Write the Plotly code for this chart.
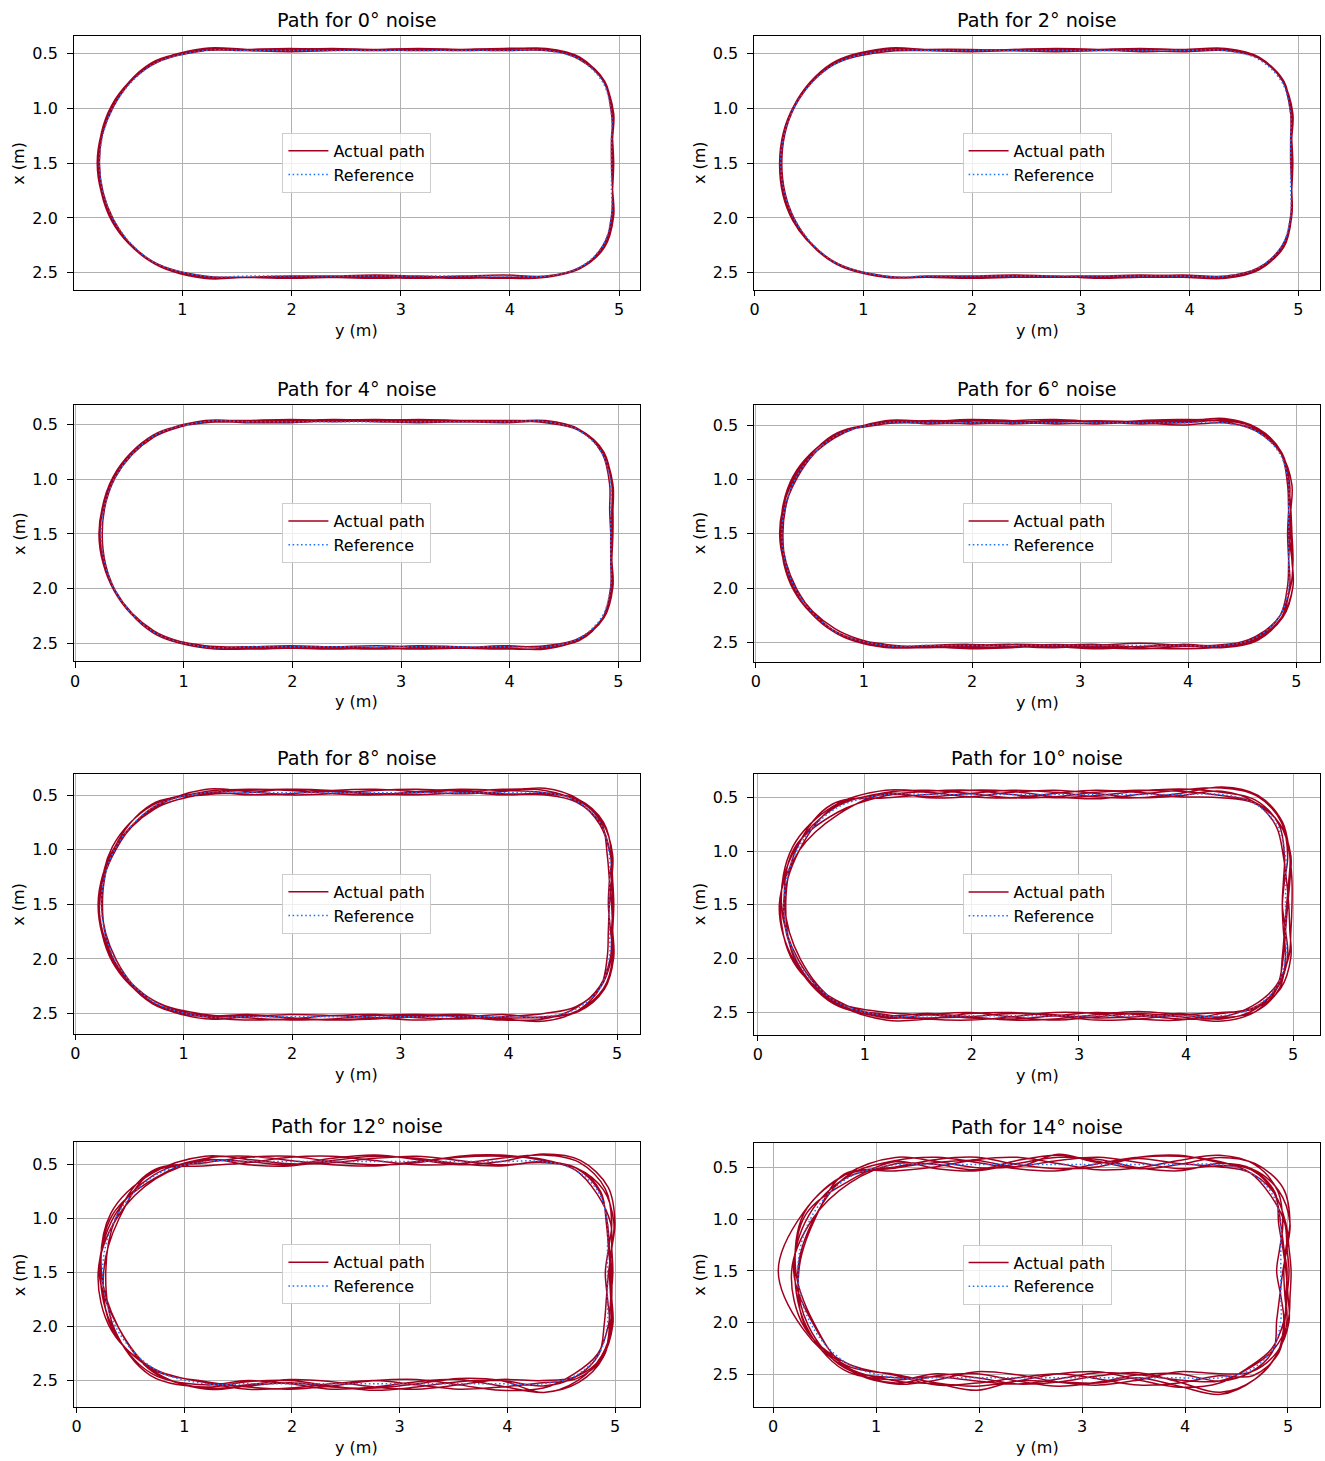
import numpy as np
import plotly.graph_objects as go

W, H = 1325, 1461

# Reference path nodes (horizontal axis = y (m), vertical axis = x (m))
REF_Y = [1.20, 1.59, 1.98, 2.37, 2.77, 3.16, 3.55, 3.94, 4.33,
         4.63, 4.85,
         4.93, 4.93, 4.93, 4.93, 4.93,
         4.85, 4.63,
         4.33, 3.94, 3.55, 3.16, 2.77, 2.37, 1.98, 1.59, 1.20,
         0.72, 0.369, 0.24, 0.369, 0.72]
REF_X = [0.475, 0.475, 0.475, 0.475, 0.475, 0.475, 0.475, 0.475, 0.475,
         0.552, 0.763,
         1.05, 1.28, 1.50, 1.74, 1.98,
         2.255, 2.456,
         2.53, 2.53, 2.53, 2.53, 2.53, 2.53, 2.53, 2.53, 2.53,
         2.392, 2.015, 1.50, 0.985, 0.608]

NOISE_DEG = [0, 2, 4, 6, 8, 10, 12, 14]

# Per-lap outward deviation of the actual path at each reference node (cm)
# order: top straight (9) | top-right corner (2) | right side (5) | bottom-right corner (2) | bottom (9) | left arc (5)
LAPS_0 = [
    [0, 1, 2, 1, 0, 1, 1, 2, 1, 1, 1, 1, 1, 0, 1, 2, 2, 1, 0, 1, 1, 2, 1, 0, 0, 1, 1, 1, 2, 1, 0, 1],
    [1, 0, -1, 0, 1, 2, 1, 0, 0, 1, 2, 1, 0, 0, 1, 1, 0, 1, 1, 2, 1, 0, -1, 0, 1, 1, 0, 0, 1, 1, 2, 1],
    [2, 1, 0, 1, 1, 0, 1, 2, 1, 0, 1, 0, 1, 2, 1, 0, 1, 0, 0, -1, 0, 1, 2, 1, 0, 1, 2, 1, 0, 0, 1, 2],
    [0, 0, 1, 2, 1, 1, 0, 1, 2, 2, 1, 2, 1, 1, 1, 2, 1, 1, 1, 1, 2, 1, 0, 1, 2, 1, 0, 0, 1, 2, 1, 0],
]
LAPS_2 = [
    [1, 0, -1, 0, 1, 1, 0, -1, 0, 1, 1, 2, 1, 1, 1, 0, 1, 1, 1, 0, -1, 0, 1, 1, 0, 0, 1, 1, 0, -1, 0, 1],
    [0, 1, 1, 0, -1, 0, 1, 1, 0, 1, 2, 0, 0, 0, 1, 1, 2, 1, 0, 1, 1, 0, 0, -1, 0, 1, 0, 0, 1, 1, 0, 0],
    [-1, 0, 0, 1, 2, 1, -1, 0, 1, 1, 1, 1, 1, 1, 1, 1, 0, 0, 0, -1, 0, 1, 1, 0, 1, 1, 0, 1, 1, 0, 1, 2],
    [2, 1, 0, 1, 0, 1, 2, 1, 2, 2, 1, 0, 1, 2, 1, 0, 1, 2, 2, 1, 1, 2, 0, 1, 2, 1, 1, 0, 2, 1, 1, 0],
]
LAPS_4 = [
    [0, 1, 2, 1, 0, -1, 0, 1, 0, 1, 1, 2, 2, 1, 0, 0, 1, 1, 2, 1, 0, -1, 1, 2, 1, 0, -1, 0, 1, 2, 1, 0],
    [1, 0, -1, 1, 2, 1, 0, -1, 0, 1, 2, 1, 1, 0, 0, 0, 1, 2, 0, -1, 1, 2, 1, 0, -1, 0, 1, 1, 0, -1, 0, 1],
    [-1, 0, 1, 0, 1, 2, 1, 0, 1, 1, 0, -1, -1, 0, 1, 2, 2, 1, 1, 2, 1, 0, -1, 0, 1, 2, 1, 0, 1, 1, 2, 1],
    [0, -1, 0, 2, 1, 0, 1, 1, -1, 0, 1, 1, 2, 2, 1, 1, 1, 0, -1, 0, 1, 1, 2, 1, 0, 1, 0, -1, 0, 1, 0, -1],
]
LAPS_6 = [
    [0, 1, 3, 2, 0, -1, 1, 2, 3, 2, 1, -1, 0, 2, 3, 4, 2, 1, -1, 1, 3, 2, 0, -1, 1, 2, 1, 0, 2, 1, -1, 0],
    [1, -1, 0, 2, 3, 1, -1, 0, 2, 3, 2, 1, 0, -1, 0, 1, 2, 3, 2, 0, -2, 0, 2, 1, -1, 0, 2, 1, -1, 0, 2, 1],
    [-1, 0, 2, 1, -1, 0, 2, 3, 1, 0, 1, 3, 2, 1, 0, -1, 0, 0, 1, 3, 2, -1, 0, 2, 3, 1, 0, -2, 0, 2, 1, -1],
    [2, 1, -1, 0, 2, 1, 0, -2, 0, 1, 2, 0, 2, 3, 4, 2, 0, -1, 0, -1, 1, 3, 1, -1, 0, 1, -1, 1, 1, -1, 0, 2],
    [0, 2, 1, -1, 1, 2, 1, 1, 4, 3, 2, 1, 0, 0, 3, 4, 3, 2, 1, 0, 1, 1, -1, 1, 2, 0, 1, 0, -1, 1, 3, 1],
]
LAPS_8 = [
    [1, 3, 2, -1, -2, 1, 3, 2, 0, 1, 2, 3, 2, 0, -1, -2, 0, 2, 4, 2, -1, 0, 2, 3, 1, -1, 0, 2, 1, -1, 1, 3],
    [-2, 0, 3, 2, -1, -2, 0, 3, 2, 0, -1, 1, 3, 4, 3, 2, 0, -2, -3, 0, 2, 1, -2, -1, 2, 3, 0, -1, 2, 3, 1, -1],
    [3, 1, -2, -1, 2, 3, 1, -2, -1, 2, 3, 2, 0, -1, 1, 3, 3, 2, 1, -2, 1, 3, 1, -1, -2, 0, 2, 1, -1, 0, 3, 2],
    [0, -2, -1, 2, 3, 1, -1, 1, 4, 2, 1, -2, 0, 2, 3, 4, 4, 3, 0, 1, -2, -1, 1, 3, 1, -2, -1, 1, 3, 2, 0, -2],
    [-1, 2, 3, 1, -1, 0, 2, -1, -2, -1, 0, 1, 2, 3, 2, 1, -1, -1, 2, 3, 0, -2, -1, 2, 3, 1, -2, -1, 1, 2, -1, 0],
]
LAPS_10 = [
    [2, 4, 1, -3, -2, 2, 4, 3, -1, 1, 3, 5, 4, 2, 0, -2, 0, 2, 3, -1, -4, -1, 3, 4, 1, -2, 0, 3, 2, -2, 1, 5],
    [-3, 0, 4, 3, -2, -4, 0, 4, 6, 7, 5, 2, -1, -3, -2, 0, 3, 4, 2, 3, -1, -3, 0, 3, 2, -1, -3, 0, 3, 4, -2, -6],
    [1, -3, -2, 2, 4, 1, -3, -1, 3, 1, -1, -2, 1, 3, 4, 5, 4, 1, -3, -1, 3, 4, 0, -3, -2, 3, 4, 1, -1, 2, 5, 3],
    [4, 2, -2, -3, 1, 4, 2, -2, -3, 0, 3, 4, 3, 1, -1, -3, 1, 4, 5, 1, -2, 1, 4, 1, -3, -1, 2, 0, -3, -1, 3, -4],
    [-1, 3, 4, 0, -3, -1, 3, 5, 2, 3, 2, -1, -2, -3, 0, 2, 1, 0, -2, 4, 3, -2, -3, 1, 4, 3, -1, 2, 1, 0, -2, 2],
    [0, -2, 1, 4, 2, -2, -3, 1, 7, 8, 6, 4, 6, 6, 5, 3, -1, -2, 1, -2, 1, 2, -1, -2, 1, 2, 1, -1, 4, 3, 2, 1],
]
LAPS_12 = [
    [3, 5, 1, -3, -4, 0, 4, 5, 2, 0, -2, 3, 4, 5, 3, 1, -1, -2, 4, 6, 1, -4, -3, 2, 5, 3, -2, 1, 4, -1, -3, 4],
    [-4, -1, 4, 5, 1, -3, -2, 3, 6, 8, 7, 4, 1, -2, 0, 2, 5, 7, 8, 2, -4, -2, 3, 5, 0, -3, 1, 5, 3, 2, 4, -2],
    [2, -3, -4, 1, 5, 3, -2, -4, 0, 2, 2, -1, 1, 3, 4, 5, 4, 1, -3, -4, 1, 5, 3, -2, -4, 1, 4, 3, -2, 1, 6, 3],
    [5, 2, -2, -1, 3, 5, 1, -3, -1, 2, 5, 6, 4, 1, -1, -3, 0, 1, 2, -3, -2, 3, 6, 2, -3, -2, 3, 7, 2, -3, 0, 5],
    [-1, 4, 5, 0, -3, -1, 5, 6, 1, 2, 1, 0, 2, 4, 4, 3, 5, 3, -1, 3, 5, 1, -3, 0, 4, 5, -1, 0, 5, 4, -1, -3],
    [1, 0, -3, 3, 6, 2, -3, 0, 7, 10, 10, 7, 4, 2, 3, 4, 3, 5, 8, -3, -5, 0, 4, 3, -1, 2, 5, 2, -2, 3, 2, 1],
]
LAPS_14 = [
    [4, 7, 2, -4, -6, 1, 7, 8, 3, 0, -2, 4, 6, 8, 6, 3, -1, -3, 5, 9, 2, -6, -4, 3, 8, 5, -3, 2, 6, -1, -4, 5],
    [-6, -2, 5, 7, 1, -5, -3, 4, 9, 9, 6, 2, -1, -4, 0, 3, 6, 10, 14, 4, -5, -2, 4, 6, 0, -4, 2, 7, 5, 3, 6, -3],
    [3, -4, -6, 1, 7, 5, -3, -6, 1, 4, 3, -2, 2, 5, 7, 8, 5, 2, -4, -6, 2, 7, 4, -3, -6, 2, 6, 4, -3, 2, 8, 4],
    [7, 3, -3, -2, 4, 7, 2, -4, -1, 4, 7, 9, 6, 2, -1, -4, 1, 2, 3, -4, -3, 4, 8, 3, -4, -2, 5, 4, 9, 19, 9, 4],
    [-2, 5, 7, 0, -4, -2, 7, 9, 2, 3, 2, 0, 3, 6, 5, 4, 7, 6, -2, 5, 7, 1, -4, 0, 5, 7, -2, 0, 7, 6, -2, -5],
    [1, 0, -5, 4, 9, 3, -4, 0, 7, 10, 12, 9, 5, 3, 4, 6, 6, 10, 16, 8, 0, 5, 4, 3, 12, 6, 3, 3, -2, 4, 3, 1],
    [-3, 2, 4, -2, 10, 2, 6, 1, -2, 0, 2, 5, 8, 10, 9, 7, 1, -2, 3, 2, -3, -5, 1, 6, 3, -1, 0, 5, 3, 0, -3, 2],
]
ALL_LAPS = [LAPS_0, LAPS_2, LAPS_4, LAPS_6, LAPS_8, LAPS_10, LAPS_12, LAPS_14]

# Axis ranges per panel (horizontal y (m), vertical x (m))
Y_RANGES = [[0.005, 5.192], [-0.004, 5.2], [-0.012, 5.2], [-0.016, 5.22],
            [-0.015, 5.213], [-0.035, 5.252], [-0.027, 5.233], [-0.184, 5.311]]
X_RANGES = [[0.342, 2.652], [0.342, 2.652], [0.323, 2.659], [0.306, 2.678],
            [0.304, 2.684], [0.280, 2.704], [0.294, 2.740], [0.262, 2.806]]
Y_TICKS = [0.5, 1.0, 1.5, 2.0, 2.5]
Y_TICK_TEXT = ["0.5", "1.0", "1.5", "2.0", "2.5"]

# Axes boxes in pixels (left, right, top, bottom)
BOXES = [(69, 637.5, 36, 289.5), (752, 1320, 36, 289.5),
         (69, 637.5, 405, 661), (752, 1320, 404.5, 661.5),
         (69, 637.5, 774, 1033.5), (752, 1320, 773.5, 1034.5),
         (69, 637.5, 1142, 1406.5), (752, 1320, 1142.5, 1406.5)]

RED = "#a3001f"
BLUE = "#1f77ff"
FONT = "DejaVu Sans"
FS = 16
TFS = 19.2

P = np.column_stack([REF_Y, REF_X])
t = np.roll(P, -1, axis=0) - np.roll(P, 1, axis=0)
nrm = np.column_stack([t[:, 1], -t[:, 0]])
nrm /= np.linalg.norm(nrm, axis=1)[:, None]
center = np.array([2.6, 1.5])
nrm *= np.sign(((P - center) * nrm).sum(axis=1))[:, None]

fig = go.Figure()
annotations = []
layout = {}

for i, (deg, laps) in enumerate(zip(NOISE_DEG, ALL_LAPS)):
    k = "" if i == 0 else str(i + 1)
    l, r, tp, bt = BOXES[i]
    xd = [l / W, r / W]
    yd = [1 - bt / H, 1 - tp / H]

    pts = []
    for lap in laps:
        off = np.array(lap, dtype=float) / 100.0
        pts.append(P + off[:, None] * nrm)
    path = np.vstack(pts + [pts[0][:1]])
    ref = np.vstack([P, P[:1]])

    leg = "legend" if i == 0 else "legend" + str(i + 1)
    fig.add_trace(go.Scatter(x=path[:, 0], y=path[:, 1], mode="lines", name="Actual path",
                             line=dict(color=RED, width=1.5, shape="spline"),
                             xaxis="x" + k, yaxis="y" + k, legend=leg))
    fig.add_trace(go.Scatter(x=ref[:, 0], y=ref[:, 1], mode="lines", name="Reference",
                             line=dict(color=BLUE, width=1.5, shape="spline", dash="1.6px,2.6px"),
                             xaxis="x" + k, yaxis="y" + k, legend=leg))

    axcommon = dict(showline=True, linecolor="black", linewidth=1.25, mirror=True,
                    ticks="outside", ticklen=5.6, tickwidth=1.25, tickcolor="black",
                    showgrid=True, gridcolor="#b0b0b0", gridwidth=1.25, zeroline=False,
                    tickfont=dict(family=FONT, size=FS, color="black"))
    layout["xaxis" + k] = dict(axcommon, domain=xd, range=Y_RANGES[i], anchor="y" + k,
                               tickmode="linear", tick0=0, dtick=1, ticklabelstandoff=0)
    layout["yaxis" + k] = dict(axcommon, domain=yd, range=[X_RANGES[i][1], X_RANGES[i][0]],
                               anchor="x" + k, tickmode="array",
                               tickvals=Y_TICKS, ticktext=Y_TICK_TEXT, ticklabelstandoff=6)
    layout[leg] = dict(x=(l + r) / 2 / W, y=1 - (tp + bt) / 2 / H, xanchor="center", yanchor="middle",
                       xref="paper", yref="paper", itemwidth=40,
                       bgcolor="rgba(255,255,255,0.8)", bordercolor="#cccccc", borderwidth=1,
                       font=dict(family=FONT, size=FS, color="black"))

    annotations.append(dict(text=f"Path for {deg}° noise", x=(l + r) / 2 / W, y=1 - tp / H,
                            xref="paper", yref="paper", xanchor="center", yanchor="bottom",
                            yshift=2, showarrow=False,
                            font=dict(family=FONT, size=TFS, color="black")))
    annotations.append(dict(text="y (m)", x=(l + r) / 2 / W, y=1 - (bt + 40.5) / H,
                            xref="paper", yref="paper", xanchor="center", yanchor="middle",
                            showarrow=False, font=dict(family=FONT, size=FS, color="black")))
    annotations.append(dict(text="x (m)", x=(l - 55) / W, y=1 - (tp + bt) / 2 / H,
                            xref="paper", yref="paper", xanchor="center", yanchor="middle",
                            textangle=-90, showarrow=False,
                            font=dict(family=FONT, size=FS, color="black")))

fig.update_layout(width=W, height=H, margin=dict(l=0, r=0, t=0, b=0),
                  paper_bgcolor="white", plot_bgcolor="white", showlegend=True,
                  annotations=annotations, **layout)

fig.write_html("out.html", config={"displayModeBar": False},
               post_script="document.body.style.margin='0px';")
